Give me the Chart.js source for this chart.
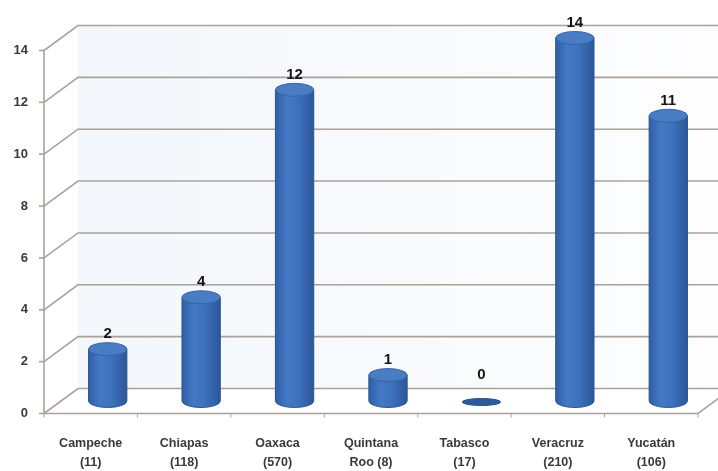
<!DOCTYPE html>
<html>
<head>
<meta charset="utf-8">
<script src="https://cdn.jsdelivr.net/npm/chart.js@4.4.1/dist/chart.umd.min.js"></script>
<style>
  html, body { margin: 0; padding: 0; background: #ffffff; }
  #wrap { width: 718px; height: 471px; position: relative; }
</style>
</head>
<body>
<div id="wrap"><canvas id="chart"></canvas></div>
<script>
// estados y número de casos
const estados = [
  ['Campeche', '(11)'],
  ['Chiapas', '(118)'],
  ['Oaxaca', '(570)'],
  ['Quintana', 'Roo (8)'],
  ['Tabasco', '(17)'],
  ['Veracruz', '(210)'],
  ['Yucatán', '(106)']
];
const valores = [2, 4, 12, 1, 0, 14, 11];
const yTicks = [0, 2, 4, 6, 8, 10, 12, 14];

// desplazamiento de media profundidad para el efecto 3D
const DX = 17;
const DY = 12.5;
const FONT = '"Liberation Sans", Arial, sans-serif';

const cilindros = {
  id: 'cilindros',
  beforeDatasetsDraw(chart) {
    const ctx = chart.ctx;
    const x = chart.scales.x;
    const y = chart.scales.y;
    const area = chart.chartArea;
    const W = chart.width;
    const y0 = y.getPixelForValue(0);
    const yTop = y.getPixelForValue(yTicks[yTicks.length - 1]);
    ctx.save();

    // pared del fondo
    const grad = ctx.createLinearGradient(area.left + DX, 0, W, 0);
    grad.addColorStop(0, '#f3f7fb');
    grad.addColorStop(1, '#fdfdfe');
    ctx.fillStyle = grad;
    ctx.fillRect(area.left + DX, yTop - DY, W - area.left - DX, y0 - yTop);

    // líneas de división: frente -> fondo -> derecha
    ctx.strokeStyle = '#aaa29a';
    ctx.lineWidth = 1.6;
    yTicks.forEach(v => {
      const py = y.getPixelForValue(v);
      ctx.beginPath();
      ctx.moveTo(area.left - DX, py + DY);
      ctx.lineTo(area.left + DX, py - DY);
      ctx.lineTo(W, py - DY);
      ctx.stroke();
      // marca del eje
      ctx.beginPath();
      ctx.moveTo(area.left - DX - 5, py + DY);
      ctx.lineTo(area.left - DX, py + DY);
      ctx.stroke();
    });

    // eje vertical del frente
    ctx.beginPath();
    ctx.moveTo(area.left - DX, yTop + DY);
    ctx.lineTo(area.left - DX, y0 + DY);
    ctx.stroke();

    // borde frontal del piso
    ctx.beginPath();
    ctx.moveTo(area.left - DX, y0 + DY);
    ctx.lineTo(area.right - DX, y0 + DY);
    ctx.lineTo(area.right + DX, y0 - DY);
    ctx.stroke();

    // marcas entre categorías
    ctx.lineWidth = 1;
    for (let i = 0; i <= estados.length; i++) {
      const px = x.getPixelForValue(i - 0.5) - DX;
      ctx.beginPath();
      ctx.moveTo(px, y0 + DY);
      ctx.lineTo(px, y0 + DY + 4);
      ctx.stroke();
    }

    // etiquetas del eje Y
    ctx.fillStyle = '#3a3a3a';
    ctx.font = 'bold 13px ' + FONT;
    ctx.textAlign = 'right';
    ctx.textBaseline = 'middle';
    yTicks.forEach(v => {
      ctx.fillText(String(v), area.left - DX - 16, y.getPixelForValue(v) + DY);
    });

    // etiquetas del eje X
    ctx.textAlign = 'center';
    ctx.font = 'bold 12.5px ' + FONT;
    estados.forEach((lbl, i) => {
      const px = x.getPixelForValue(i) - DX;
      lbl.forEach((t, k) => ctx.fillText(t, px, y0 + DY + 30 + k * 19));
    });
    ctx.restore();
  },
  afterDatasetsDraw(chart) {
    const ctx = chart.ctx;
    const meta = chart.getDatasetMeta(0);
    ctx.save();
    meta.data.forEach((bar, i) => {
      const w = bar.width;
      const cx = bar.x;
      const left = cx - w / 2;
      const top = bar.y;
      const base = bar.base;
      const ry = 6.5;
      const alto = base - top > 0.5;

      const body = ctx.createLinearGradient(left, 0, left + w, 0);
      body.addColorStop(0, '#2f5fa6');
      body.addColorStop(0.3, '#4479c4');
      body.addColorStop(0.6, '#3d71bc');
      body.addColorStop(1, '#2b579a');

      if (alto) {
        ctx.fillStyle = body;
        ctx.beginPath();
        ctx.moveTo(left, top);
        ctx.lineTo(left, base);
        ctx.ellipse(cx, base, w / 2, ry, 0, Math.PI, 0, true);
        ctx.lineTo(left + w, top);
        ctx.closePath();
        ctx.fill();
        ctx.strokeStyle = '#2a5590';
        ctx.lineWidth = 1;
        ctx.stroke();
      }

      // tapa superior
      ctx.beginPath();
      ctx.ellipse(cx, alto ? top : top + 1, w / 2, alto ? ry : 3.5, 0, 0, Math.PI * 2);
      ctx.fillStyle = alto ? '#4a7cc3' : '#2c5a9c';
      ctx.fill();
      ctx.strokeStyle = alto ? '#3464a8' : '#274f8c';
      ctx.lineWidth = 1;
      ctx.stroke();

      // valor sobre la columna
      ctx.fillStyle = '#151515';
      ctx.font = 'bold 15px ' + FONT;
      ctx.textAlign = 'center';
      ctx.textBaseline = 'middle';
      ctx.fillText(String(valores[i]), cx, top - (alto ? 15 : 26));
    });
    ctx.restore();
  }
};

new Chart(document.getElementById('chart'), {
  type: 'bar',
  data: {
    labels: estados,
    datasets: [{
      data: valores,
      backgroundColor: 'rgba(0,0,0,0)',
      borderWidth: 0,
      categoryPercentage: 1,
      barPercentage: 0.41
    }]
  },
  options: {
    responsive: true,
    maintainAspectRatio: false,
    animation: false,
    layout: { padding: { left: 61, right: 3, top: 38, bottom: 70 } },
    plugins: { legend: { display: false }, tooltip: { enabled: false } },
    scales: {
      x: { display: false },
      y: { display: false, min: 0, max: 14, ticks: { stepSize: 2 } }
    }
  },
  plugins: [cilindros]
});
</script>
</body>
</html>
